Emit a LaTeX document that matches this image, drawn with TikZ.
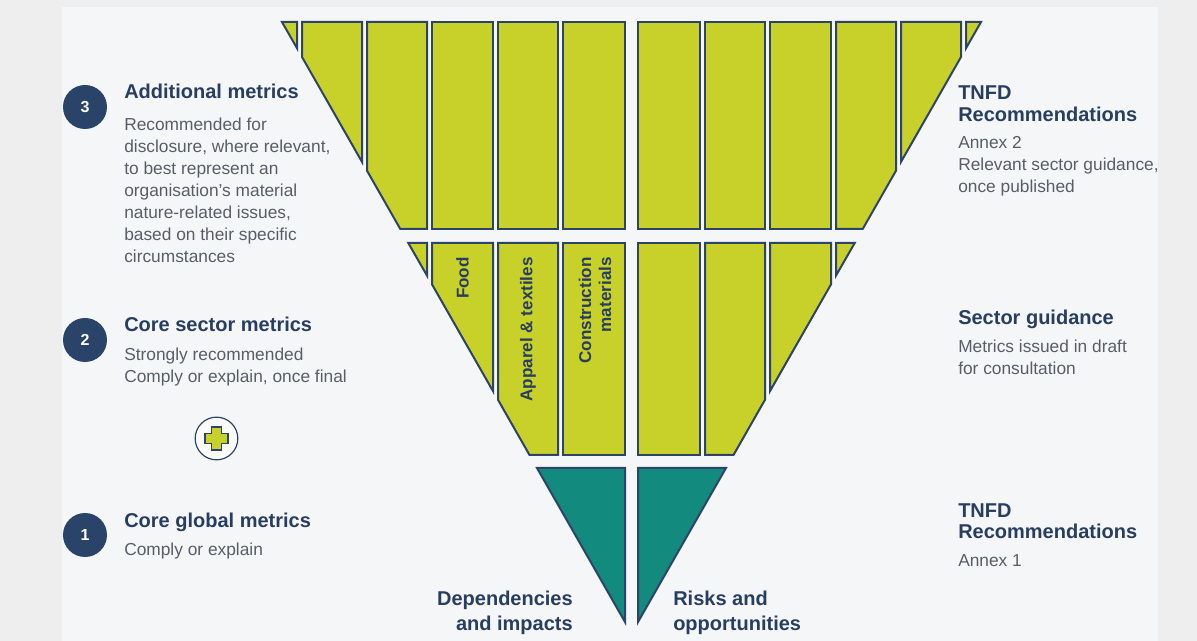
\documentclass[tikz,border=0pt]{standalone}
\usepackage{fontspec}
\setmainfont{Liberation Sans}
\begin{document}
\begin{tikzpicture}[x=0.75pt,y=0.75pt,yscale=-1,xscale=1,
  cell/.style={draw={rgb, 255:red, 44; green, 68; blue, 104 },line width=1.5,fill={rgb, 255:red, 200; green, 209; blue, 42 }},
  tealcell/.style={draw={rgb, 255:red, 44; green, 68; blue, 104 },line width=1.5,fill={rgb, 255:red, 18; green, 138; blue, 126 }},
  numdot/.style={circle,fill={rgb, 255:red, 42; green, 67; blue, 104 },text=white,inner sep=0,minimum size=33pt,font=\fontsize{12}{12}\selectfont\bfseries},
  head/.style={inner sep=0,text={rgb, 255:red, 40; green, 62; blue, 96 },font=\fontsize{15}{16.3}\selectfont\bfseries,align=left},
  body/.style={inner sep=0,text={rgb, 255:red, 88; green, 94; blue, 104 },font=\fontsize{13}{16.5}\selectfont,align=left},
  vlabel/.style={inner sep=0.75pt,rotate=90,anchor=east,text={rgb, 255:red, 40; green, 62; blue, 96 },font=\fontsize{12.8}{15}\selectfont\bfseries,align=right}]
\useasboundingbox (0,0) rectangle (1197,641);

%Background
\fill [color={rgb, 255:red, 238; green, 238; blue, 238 }] (0,0) rectangle (1197,641);
\fill [color={rgb, 255:red, 245; green, 246; blue, 247 }] (62,7) rectangle (1158,641);

%Shape: Polygon - top band, left half
\draw [cell] (282,22) -- (297,22) -- (297,48.2) -- cycle ;
\draw [cell] (302,22) -- (362,22) -- (362,161.9) -- (302,57) -- cycle ;
\draw [cell] (367,22) -- (427,22) -- (427,229) -- (400.3,229) -- (367,170.7) -- cycle ;
\draw [cell] (432,22) rectangle (493,229) ;
\draw [cell] (498,22) rectangle (558,229) ;
\draw [cell] (563,22) rectangle (625,229) ;
%Shape: Polygon - top band, right half
\draw [cell] (638,22) rectangle (700,229) ;
\draw [cell] (705,22) rectangle (765,229) ;
\draw [cell] (770,22) rectangle (831,229) ;
\draw [cell] (836,22) -- (896,22) -- (896,170.7) -- (862.7,229) -- (836,229) -- cycle ;
\draw [cell] (901,22) -- (961,22) -- (961,57) -- (901,161.9) -- cycle ;
\draw [cell] (966,22) -- (981,22) -- (966,48.2) -- cycle ;

%Shape: Polygon - sector band, left half
\draw [cell] (408.3,243) -- (427,243) -- (427,275.6) -- cycle ;
\draw [cell] (432,243) -- (493,243) -- (493,391.1) -- (432,284.4) -- cycle ;
\draw [cell] (498,243) -- (558,243) -- (558,455) -- (529.5,455) -- (498,399.8) -- cycle ;
\draw [cell] (563,243) rectangle (625,455) ;
%Shape: Polygon - sector band, right half
\draw [cell] (638,243) rectangle (700,455) ;
\draw [cell] (705,243) -- (765,243) -- (765,399.8) -- (733.5,455) -- (705,455) -- cycle ;
\draw [cell] (770,243) -- (831,243) -- (831,284.4) -- (770,391.1) -- cycle ;
\draw [cell] (836,243) -- (854.7,243) -- (836,275.6) -- cycle ;

%Shape: Triangle - core global band
\draw [tealcell] (537,468) -- (625,468) -- (625,622) -- cycle ;
\draw [tealcell] (638,468) -- (726,468) -- (638,622) -- cycle ;

% Text Node
\draw (462.5,256) node (food) [vlabel] {Food};
% Text Node
\draw (528,256) node (apparel) [vlabel] {Apparel \& textiles};
% Text Node
\draw (595,256) node (construct) [vlabel] {Construction\\materials};

%Shape: Circle - numbers
\node (dot3) [numdot] at (85,107) {3};
\node (dot2) [numdot] at (85,340) {2};
\node (dot1) [numdot] at (85,535) {1};

%Shape: Circle - plus icon
\node (plusdot) [circle,draw={rgb, 255:red, 44; green, 68; blue, 104 },line width=0.9,fill={rgb, 255:red, 252; green, 252; blue, 252 },minimum size=32pt,inner sep=0] at (216.5,438.5) {};
\draw [cell,line width=1.2] (211.5,427) -- (221.5,427) -- (221.5,433.5) -- (228,433.5) -- (228,443.5) -- (221.5,443.5) -- (221.5,450) -- (211.5,450) -- (211.5,443.5) -- (205,443.5) -- (205,433.5) -- (211.5,433.5) -- cycle ;

% Text Node
\draw (124,99) node (addhead) [head,anchor=base west] {Additional metrics};
% Text Node
\draw (124,262.7) node (addbody) [body,anchor=base west] {Recommended for\\disclosure, where relevant,\\to best represent an\\organisation's material\\nature-related issues,\\based on their specific\\circumstances};
% Text Node
\draw (124,332) node (sechead) [head,anchor=base west] {Core sector metrics};
% Text Node
\draw (124,383) node (secbody) [body,anchor=base west] {Strongly recommended\\Comply or explain, once final};
% Text Node
\draw (124,528) node (glohead) [head,anchor=base west] {Core global metrics};
% Text Node
\draw (124,556) node (globody) [body,anchor=base west] {Comply or explain};

% Text Node
\draw (958,121.7) node (tnfdtwo) [head,anchor=base west] {TNFD\\Recommendations};
% Text Node
\draw (958,193) node (annextwo) [body,anchor=base west] {Annex 2\\Relevant sector guidance,\\once published};
% Text Node
\draw (958,325) node (guidhead) [head,anchor=base west] {Sector guidance};
% Text Node
\draw (958,375) node (guidbody) [body,anchor=base west] {Metrics issued in draft\\for consultation};
% Text Node
\draw (958,539) node (tnfdone) [head,anchor=base west] {TNFD\\Recommendations};
% Text Node
\draw (958,566.7) node (annexone) [body,anchor=base west] {Annex 1};

% Text Node
\draw (573,631) node (depend) [head,anchor=base east,align=right,font=\fontsize{15}{19.5}\selectfont\bfseries] {Dependencies\\and impacts};
% Text Node
\draw (673,631) node (risks) [head,anchor=base west,font=\fontsize{15}{19.5}\selectfont\bfseries] {Risks and\\opportunities};

\end{tikzpicture}
\end{document}
